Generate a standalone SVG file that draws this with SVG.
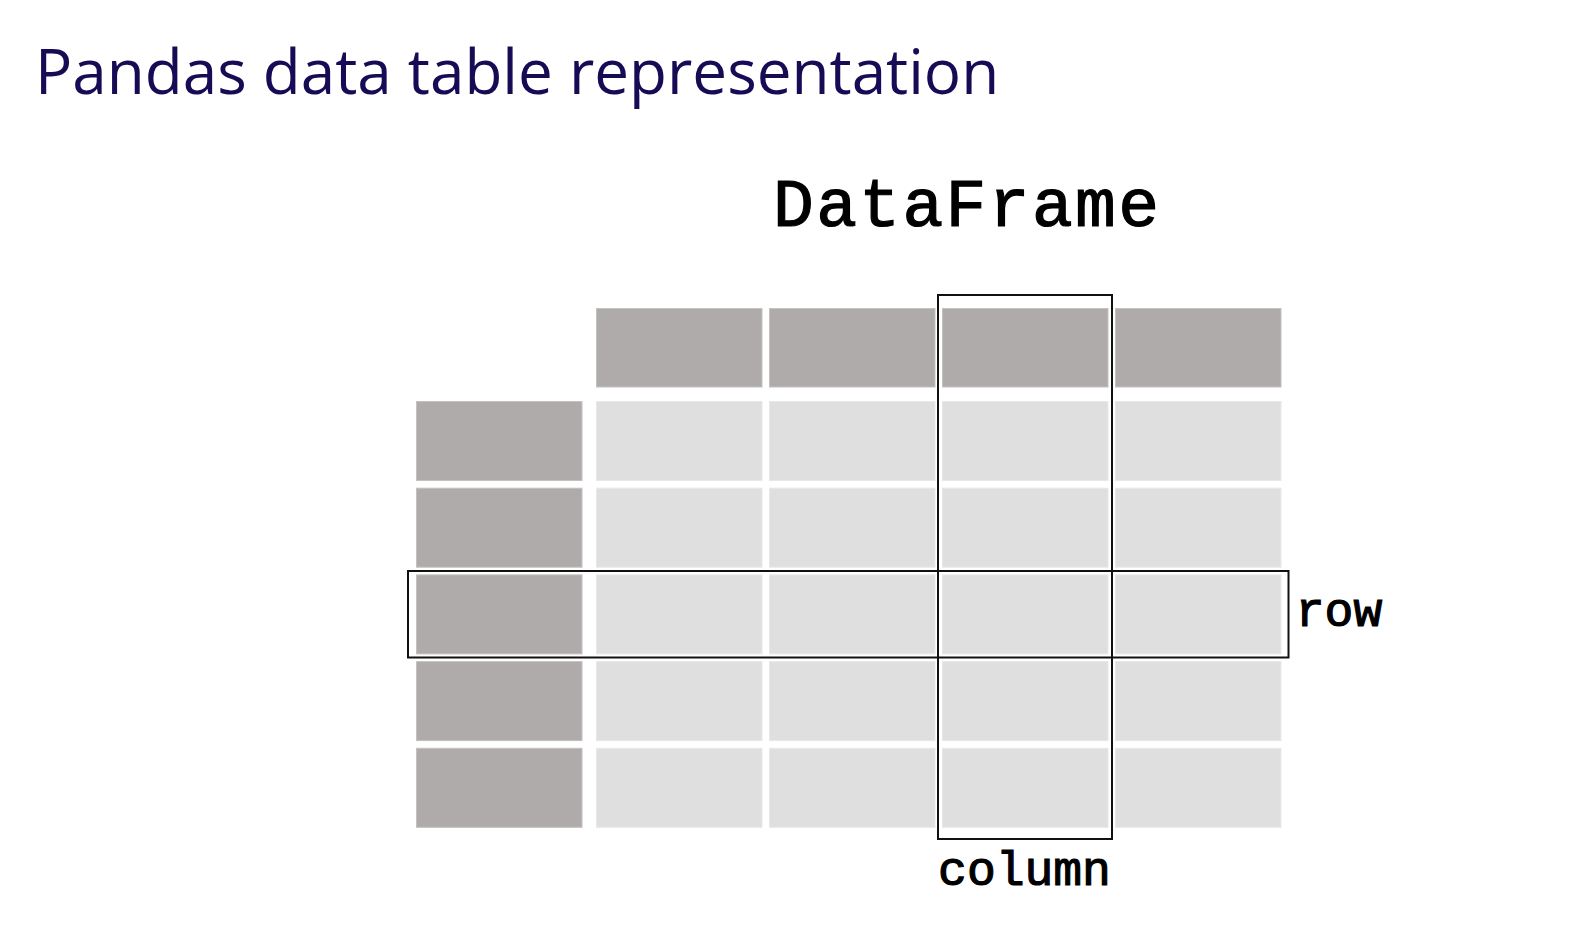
<svg xmlns="http://www.w3.org/2000/svg" width="1580" height="933" viewBox="0 0 1580 933">
<style>
.title{font-family:"Open Sans","Noto Sans",sans-serif;font-size:62px;fill:#160c55}
.mono{font-family:"Liberation Mono","Courier New",monospace;font-weight:normal;fill:#000;stroke:#000;stroke-width:1.2}
.hd{fill:#afabaa;stroke:#c4c1c0;stroke-width:1}
.dt{fill:#e0dfe0;stroke:#e9e8e9;stroke-width:1}
.sel{fill:none;stroke:#111;stroke-width:2}
</style>
<rect width="1580" height="933" fill="#fff"/>
<text class="title" x="35" y="93.5">Pandas data table representation</text>
<text class="mono" x="966" y="226" font-size="68" text-anchor="middle" textLength="386" lengthAdjust="spacing">DataFrame</text>
<g id="headers">
<rect class="hd" x="596.5" y="308.5" width="165.5" height="78.5"/>
<rect class="hd" x="769.5" y="308.5" width="165.5" height="78.5"/>
<rect class="hd" x="942.5" y="308.5" width="165.5" height="78.5"/>
<rect class="hd" x="1115.5" y="308.5" width="165.5" height="78.5"/>
</g>
<g id="index">
<rect class="hd" x="416.5" y="401.5" width="165.5" height="79"/>
<rect class="hd" x="416.5" y="488.2" width="165.5" height="79"/>
<rect class="hd" x="416.5" y="574.9" width="165.5" height="79"/>
<rect class="hd" x="416.5" y="661.6" width="165.5" height="79"/>
<rect class="hd" x="416.5" y="748.3" width="165.5" height="79"/>
</g>
<g id="data">
<rect class="dt" x="596.5" y="401.5" width="165.5" height="79"/>
<rect class="dt" x="769.5" y="401.5" width="165.5" height="79"/>
<rect class="dt" x="942.5" y="401.5" width="165.5" height="79"/>
<rect class="dt" x="1115.5" y="401.5" width="165.5" height="79"/>
<rect class="dt" x="596.5" y="488.2" width="165.5" height="79"/>
<rect class="dt" x="769.5" y="488.2" width="165.5" height="79"/>
<rect class="dt" x="942.5" y="488.2" width="165.5" height="79"/>
<rect class="dt" x="1115.5" y="488.2" width="165.5" height="79"/>
<rect class="dt" x="596.5" y="574.9" width="165.5" height="79"/>
<rect class="dt" x="769.5" y="574.9" width="165.5" height="79"/>
<rect class="dt" x="942.5" y="574.9" width="165.5" height="79"/>
<rect class="dt" x="1115.5" y="574.9" width="165.5" height="79"/>
<rect class="dt" x="596.5" y="661.6" width="165.5" height="79"/>
<rect class="dt" x="769.5" y="661.6" width="165.5" height="79"/>
<rect class="dt" x="942.5" y="661.6" width="165.5" height="79"/>
<rect class="dt" x="1115.5" y="661.6" width="165.5" height="79"/>
<rect class="dt" x="596.5" y="748.3" width="165.5" height="79"/>
<rect class="dt" x="769.5" y="748.3" width="165.5" height="79"/>
<rect class="dt" x="942.5" y="748.3" width="165.5" height="79"/>
<rect class="dt" x="1115.5" y="748.3" width="165.5" height="79"/>
</g>
<g id="column-highlight">
<rect class="sel" x="938" y="295" width="174" height="544"/>
<text class="mono" x="1024.5" y="885" font-size="48" text-anchor="middle">column</text>
</g>
<g id="row-highlight">
<rect class="sel" x="408" y="571" width="880.5" height="86.5"/>
<text class="mono" x="1339" y="626" font-size="48" text-anchor="middle">row</text>
</g>
</svg>
